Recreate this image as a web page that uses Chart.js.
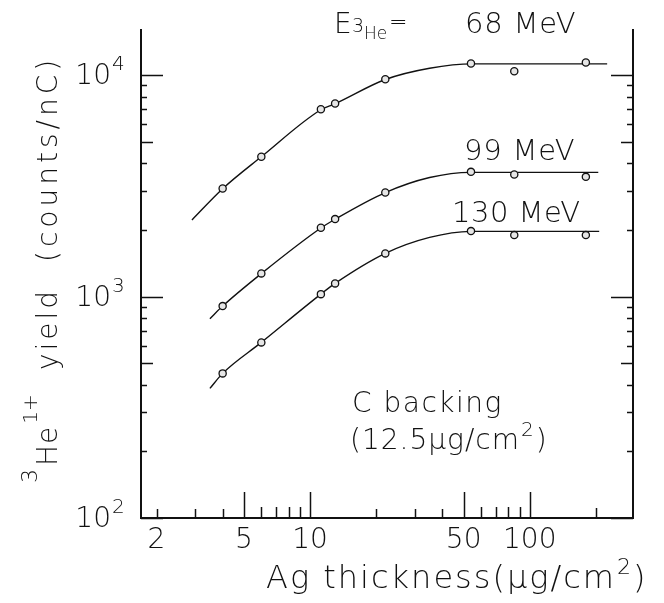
<!DOCTYPE html>
<html>
<head>
<meta charset="utf-8">
<script src="https://cdn.jsdelivr.net/npm/chart.js@4/dist/chart.umd.min.js"></script>
<style>
  html, body { margin: 0; padding: 0; background: #fff; }
</style>
</head>
<body>
<canvas id="yield-graph" width="664" height="603"></canvas>
<script>
const CTX = document.getElementById('yield-graph');

// Ag target thickness (ug/cm2) of the measured points
const thickness = [4, 6, 11.2, 13, 22, 54, 85, 180];

// 3He1+ yield (counts/nC) for each beam energy
const yield68 = [3080, 4280, 7020, 7450, 9590, 11290, 10420, 11410];
const yield99 = [906, 1273, 2045, 2239, 2954, 3659, 3562, 3475];
const yield130 = [450, 621, 1026, 1147, 1567, 1976, 1896, 1896];

// hand-drawn smooth curves through the points
const fitX68 = [2.9, 4, 6, 11.2, 13, 22, 35, 55, 225];
const fitY68 = [2220, 3070, 4280, 6980, 7430, 9560, 10750, 11250, 11250];
const fitX99 = [3.5, 4, 6, 11.2, 13, 22, 35, 54, 205];
const fitY99 = [795, 906, 1270, 2040, 2235, 2950, 3450, 3640, 3640];
const fitX130 = [3.5, 4, 6, 11.2, 13, 22, 35, 54, 207];
const fitY130 = [385, 450, 621, 1026, 1147, 1567, 1850, 1970, 1970];

const energyLabels = ['68 MeV', '99 MeV', '130 MeV'];

const xTickLabels = [2, 5, 10, 50, 100];
const yTickLabels = [100, 1000, 10000];
const yTickPowers = ['2', '3', '4'];

const X_MIN = 1.7, X_MAX = 295;
const Y_MIN = 100, Y_MAX = 16000;

const INK = '#111';
const FONT = "'DejaVu Sans', 'Liberation Sans', sans-serif";

function pts(xs, ys) {
  return xs.map((x, i) => ({ x: x, y: ys[i] }));
}

function markerSet(ys) {
  return {
    type: 'scatter',
    data: pts(thickness, ys),
    order: 0,
    pointRadius: 3.6,
    pointBorderWidth: 1.3,
    pointBorderColor: INK,
    pointBackgroundColor: '#e6e6e6',
    pointHoverRadius: 3.6
  };
}

function curveSet(xs, ys) {
  return {
    type: 'line',
    data: pts(xs, ys),
    order: 1,
    borderColor: INK,
    borderWidth: 1.4,
    pointRadius: 0,
    fill: false,
    cubicInterpolationMode: 'monotone'
  };
}

function txt(ctx, s, x, y, size, align, spacing) {
  ctx.font = '200 ' + size + 'px ' + FONT;
  ctx.textAlign = align || 'left';
  ctx.letterSpacing = (spacing || 0) + 'px';
  ctx.fillText(s, x, y);
  const w = ctx.measureText(s).width;
  ctx.letterSpacing = '0px';
  return w;
}

// inward ticks, tick labels and all the lettering
const decor = {
  id: 'decor',
  afterDraw(chart) {
    const ctx = chart.ctx;
    const xs = chart.scales.x, ys = chart.scales.y;
    const area = chart.chartArea;
    ctx.save();
    ctx.strokeStyle = INK;
    ctx.fillStyle = INK;
    ctx.lineWidth = 1.5;
    ctx.textBaseline = 'alphabetic';

    // y ticks on both side axes
    for (const d of yTickLabels) {
      for (let m = 1; m <= 9; m++) {
        const v = d * m;
        if (v < Y_MIN || v > Y_MAX) continue;
        const py = Math.round(ys.getPixelForValue(v)) + 0.5;
        const len = m === 1 ? 22 : (m === 5 ? 12 : 6);
        ctx.beginPath();
        ctx.moveTo(area.left, py); ctx.lineTo(area.left + len, py);
        ctx.moveTo(area.right, py); ctx.lineTo(area.right - len, py);
        ctx.stroke();
      }
    }

    // x ticks along the bottom axis
    for (const d of [1, 10, 100]) {
      for (let m = 1; m <= 9; m++) {
        const v = d * m;
        if (v <= X_MIN || v >= X_MAX) continue;
        const px = Math.round(xs.getPixelForValue(v)) + 0.5;
        let len = 9;
        if (m === 1 || m === 5) len = 26;
        else if (m >= 6) len = 11;
        if (v === 200) len = 10;
        ctx.beginPath();
        ctx.moveTo(px, area.bottom); ctx.lineTo(px, area.bottom - len);
        ctx.stroke();
      }
    }

    // y tick labels 10^n
    yTickLabels.forEach((v, i) => {
      const py = ys.getPixelForValue(v);
      txt(ctx, '10', 111, py + 9, 28, 'right');
      txt(ctx, yTickPowers[i], 112, py - 5, 20, 'left');
    });

    // x tick labels
    xTickLabels.forEach(v => {
      txt(ctx, String(v), xs.getPixelForValue(v), 548, 28, 'center');
    });

    // x title
    let x = 266;
    x += txt(ctx, 'Ag thickness(\u00b5g/cm', x, 588, 32, 'left', 2);
    x += txt(ctx, '2', x + 1, 574, 22, 'left') + 3;
    txt(ctx, ')', x, 588, 32, 'left');

    // y title, reading upwards
    ctx.save();
    ctx.translate(57, 483);
    ctx.rotate(-Math.PI / 2);
    let u = 0;
    txt(ctx, '3', u, -20, 22, 'left');
    u += 17;
    u += txt(ctx, 'He', u, 0, 28, 'left', 1) + 2;
    txt(ctx, '1+', u, -20, 20, 'left');
    txt(ctx, 'yield', 113, 0, 28, 'left', 3);
    txt(ctx, '(counts/nC)', 221, 0, 28, 'left', 4);
    ctx.restore();

    // beam energy header and curve labels
    txt(ctx, 'E', 334, 33, 28, 'left');
    txt(ctx, '3', 352, 32, 19, 'left');
    txt(ctx, 'He', 364, 39, 17, 'left');
    txt(ctx, '=', 389, 29, 22, 'left');
    txt(ctx, energyLabels[0], 465, 33, 29, 'left', 0.8);
    txt(ctx, energyLabels[1], 464, 160, 29, 'left', 0.8);
    txt(ctx, energyLabels[2], 452, 222, 29, 'left', 0.5);

    // backing note
    txt(ctx, 'C backing', 352, 412, 28, 'left', 1.5);
    x = 350;
    x += txt(ctx, '(12.5\u00b5g/cm', x, 449, 28, 'left', 1);
    x += txt(ctx, '2', x + 1, 436, 20, 'left') + 3;
    txt(ctx, ')', x, 449, 28, 'left');

    ctx.restore();
  }
};

const axisBorder = { display: true, width: 2, color: INK };

new Chart(CTX, {
  data: {
    datasets: [
      markerSet(yield68),
      markerSet(yield99),
      markerSet(yield130),
      curveSet(fitX68, fitY68),
      curveSet(fitX99, fitY99),
      curveSet(fitX130, fitY130)
    ]
  },
  options: {
    responsive: false,
    devicePixelRatio: 1,
    animation: false,
    layout: { padding: { left: 141, right: 31, top: 30, bottom: 85 } },
    plugins: { legend: { display: false }, tooltip: { enabled: false } },
    scales: {
      x: {
        type: 'logarithmic', min: X_MIN, max: X_MAX,
        grid: { display: false, drawTicks: false },
        ticks: { display: false },
        border: axisBorder,
        afterFit: s => { s.height = 0; }
      },
      y: {
        type: 'logarithmic', min: Y_MIN, max: Y_MAX,
        grid: { display: false, drawTicks: false },
        ticks: { display: false },
        border: axisBorder,
        afterFit: s => { s.width = 0; }
      },
      y2: {
        type: 'logarithmic', position: 'right', min: Y_MIN, max: Y_MAX,
        grid: { display: false, drawTicks: false },
        ticks: { display: false },
        border: axisBorder,
        afterFit: s => { s.width = 0; }
      }
    }
  },
  plugins: [decor]
});
</script>
</body>
</html>
